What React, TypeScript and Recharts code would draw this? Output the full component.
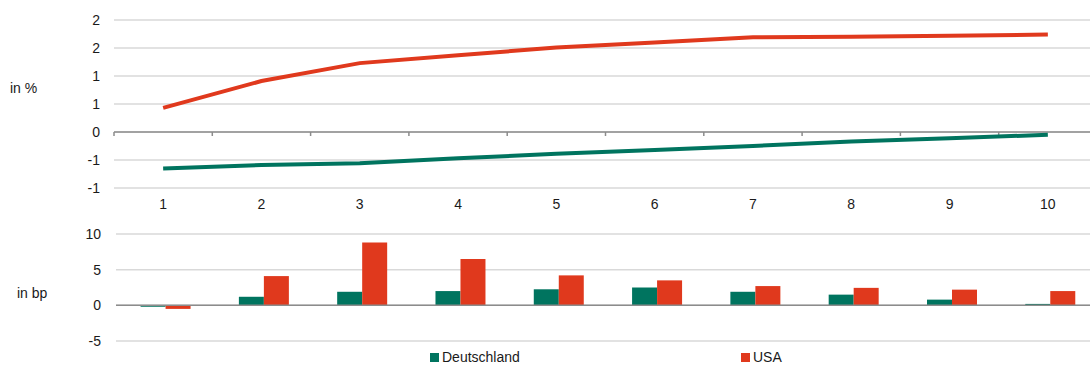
import React from "react";
import {
  Bar,
  BarChart,
  CartesianGrid,
  Line,
  LineChart,
  ReferenceLine,
  XAxis,
  YAxis,
} from "recharts";

const FONT = "'Liberation Sans', Arial, sans-serif";
const GREEN = "#00745F";
const RED = "#E0391D";
const GRID = "#D9D9D9";
const AXIS = "#8C8C8C";

// Laufzeiten in Jahren
const TENORS = [1, 2, 3, 4, 5, 6, 7, 8, 9, 10];

// Renditen in %
const YIELD_DE = [-0.65, -0.59, -0.56, -0.47, -0.39, -0.32, -0.25, -0.17, -0.11, -0.05];
const YIELD_US = [0.43, 0.91, 1.23, 1.37, 1.51, 1.6, 1.69, 1.7, 1.72, 1.74];

// Veränderung in Basispunkten
const CHANGE_DE = [-0.2, 1.2, 1.9, 2.0, 2.25, 2.5, 1.9, 1.5, 0.8, 0.2];
const CHANGE_US = [-0.5, 4.1, 8.8, 6.5, 4.2, 3.5, 2.7, 2.45, 2.2, 2.0];

const YIELD_TICKS = [2, 1.5, 1, 0.5, 0, -0.5, -1];
const YIELD_TICK_LABELS = ["2", "2", "1", "1", "0", "-1", "-1"];
const BP_TICKS = [-5, 0, 5, 10];

const SERIES = [
  { key: "de", name: "Deutschland", color: GREEN },
  { key: "us", name: "USA", color: RED },
];

const curve = TENORS.map((t, i) => ({ tenor: t, de: YIELD_DE[i], us: YIELD_US[i] }));
const change = TENORS.map((t, i) => ({ tenor: t, de: CHANGE_DE[i], us: CHANGE_US[i] }));

const tickStyle = { fontSize: 14, fill: "#1A1A1A", fontFamily: FONT };

// zero line with small category ticks hanging below it
function ZeroAxis(props: any) {
  const { x1, y1, x2, y2 } = props;
  const n = TENORS.length;
  const step = (x2 - x1) / n;
  return (
    <g>
      <line x1={x1} y1={y1} x2={x2} y2={y2} stroke={AXIS} strokeWidth={1.5} />
      {Array.from({ length: n + 1 }, (_, i) => (
        <line
          key={i}
          x1={x1 + i * step}
          x2={x1 + i * step}
          y1={y1}
          y2={y1 + 4}
          stroke={AXIS}
          strokeWidth={1.5}
        />
      ))}
    </g>
  );
}

export default function App() {
  return (
    <div
      style={{
        position: "fixed",
        left: 0,
        top: 0,
        width: 1090,
        height: 365,
        overflow: "hidden",
        background: "#fff",
        fontFamily: FONT,
      }}
    >
      <LineChart
        width={1100}
        height={220}
        data={curve}
        margin={{ top: 20, right: 3, bottom: 0, left: 0 }}
      >
        <CartesianGrid stroke={GRID} strokeWidth={1.5} vertical={false} />
        <XAxis
          dataKey="tenor"
          scale="band"
          height={32}
          axisLine={false}
          tickLine={false}
          tickMargin={5}
          tick={tickStyle}
          interval={0}
        />
        <YAxis
          width={114}
          domain={[-1, 2]}
          ticks={YIELD_TICKS}
          tickFormatter={(v: number) => YIELD_TICK_LABELS[YIELD_TICKS.indexOf(v)]}
          axisLine={false}
          tickLine={false}
          tickMargin={8}
          tick={tickStyle}
          label={{
            value: "in %",
            position: "insideLeft",
            offset: 10,
            dy: -16,
            style: { ...tickStyle, textAnchor: "start" },
          }}
        />
        <ReferenceLine y={0} shape={ZeroAxis} />
        {SERIES.map((s) => (
          <Line
            key={s.key}
            dataKey={s.key}
            name={s.name}
            type="linear"
            stroke={s.color}
            strokeWidth={4}
            dot={false}
            isAnimationActive={false}
          />
        ))}
      </LineChart>
      <BarChart
        width={1102}
        height={145}
        data={change}
        margin={{ top: 14, right: 3, bottom: 24, left: 0 }}
        barCategoryGap="25%"
        barGap={0}
      >
        <CartesianGrid stroke={GRID} strokeWidth={1.5} vertical={false} />
        <XAxis dataKey="tenor" hide />
        <YAxis
          width={116}
          domain={[-5, 10]}
          ticks={BP_TICKS}
          axisLine={false}
          tickLine={false}
          tickMargin={9}
          tick={tickStyle}
          label={{
            value: "in bp",
            position: "insideLeft",
            offset: 17,
            dy: 6,
            style: { ...tickStyle, textAnchor: "start" },
          }}
        />
        {SERIES.map((s) => (
          <Bar
            key={s.key}
            dataKey={s.key}
            name={s.name}
            fill={s.color}
            isAnimationActive={false}
          />
        ))}
        <ReferenceLine y={0} stroke={AXIS} strokeWidth={1.5} />
      </BarChart>
      <div
        style={{
          position: "absolute",
          left: 430,
          top: 351,
          height: 12,
          display: "flex",
          fontSize: 14,
          lineHeight: "12px",
          color: "#1A1A1A",
        }}
      >
        {SERIES.map((s) => (
          <div key={s.key} style={{ width: 311, display: "flex", alignItems: "center" }}>
            <span style={{ width: 9, height: 9, background: s.color, marginRight: 3 }} />
            <span>{s.name}</span>
          </div>
        ))}
      </div>
    </div>
  );
}
